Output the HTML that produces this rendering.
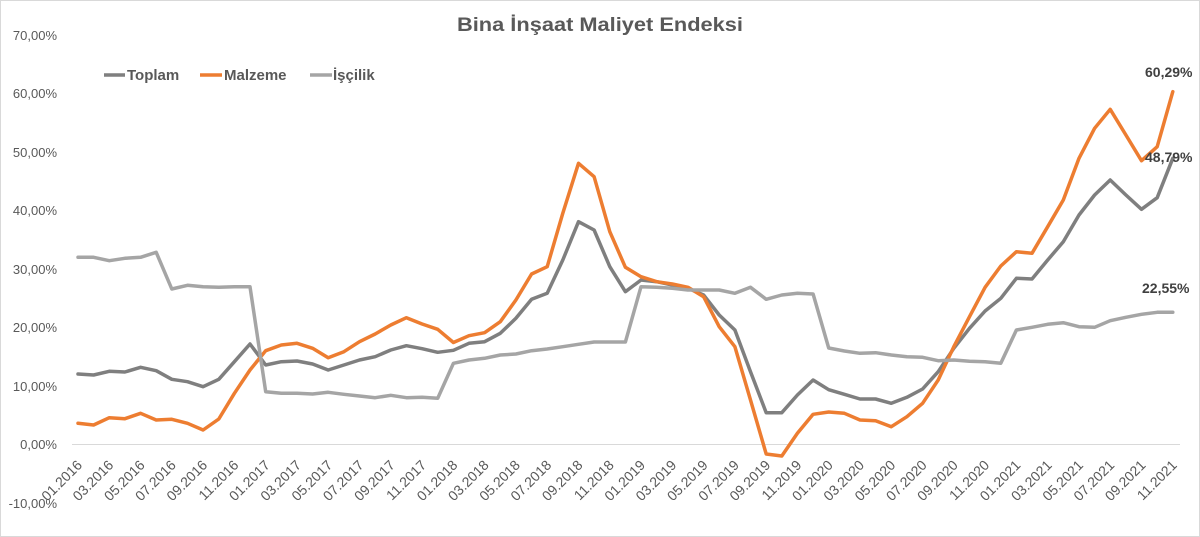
<!DOCTYPE html>
<html><head><meta charset="utf-8"><style>
html,body{margin:0;padding:0;background:#fff;}
svg{display:block;}
</style></head><body>
<svg width="1200" height="537" viewBox="0 0 1200 537" xmlns="http://www.w3.org/2000/svg" font-family="'Liberation Sans', sans-serif">
<rect x="0.5" y="0.5" width="1199" height="536" fill="#fff" stroke="#d9d9d9" stroke-width="1"/>
<text x="600" y="31" text-anchor="middle" font-size="19" font-weight="bold" fill="#595959" textLength="286" lengthAdjust="spacingAndGlyphs">Bina İnşaat Maliyet Endeksi</text>
<!-- legend -->
<g font-size="15" font-weight="bold" fill="#595959">
<line x1="104" y1="75" x2="125" y2="75" stroke="#7f7f7f" stroke-width="3.5"/>
<text x="127" y="80">Toplam</text>
<line x1="200" y1="75" x2="222" y2="75" stroke="#ed7d31" stroke-width="3.5"/>
<text x="224" y="80">Malzeme</text>
<line x1="310" y1="75" x2="332" y2="75" stroke="#a5a5a5" stroke-width="3.5"/>
<text x="333" y="80">İşçilik</text>
</g>
<!-- y axis labels -->
<g font-size="13" fill="#595959" text-anchor="end">
<text x="57" y="40">70,00%</text>
<text x="57" y="98">60,00%</text>
<text x="57" y="157">50,00%</text>
<text x="57" y="215">40,00%</text>
<text x="57" y="274">30,00%</text>
<text x="57" y="332">20,00%</text>
<text x="57" y="391">10,00%</text>
<text x="57" y="449">0,00%</text>
<text x="57" y="508">-10,00%</text>
</g>
<line x1="72" y1="444.5" x2="1180" y2="444.5" stroke="#d9d9d9" stroke-width="1"/>
<!-- series -->
<g fill="none" stroke-width="3.5" stroke-linejoin="round" stroke-linecap="round">
<polyline stroke="#7f7f7f" points="78.0,374 93.6,375 109.3,371.3 124.9,372 140.6,367.3 156.2,370.7 171.8,379.3 187.5,381.7 203.1,386.7 218.8,379.3 234.4,361.7 250.0,344 265.7,365 281.3,361.7 297.0,361 312.6,364 328.2,370 343.9,365 359.5,360 375.2,356.7 390.8,350 406.4,345.7 422.1,348.7 437.7,352.3 453.4,350.3 469.0,343.3 484.6,341.7 500.3,333.3 515.9,318.3 531.6,299.3 547.2,293.3 562.8,260 578.5,221.7 594.1,230 609.8,266.7 625.4,291.7 641.0,280 656.7,281.7 672.3,285 688.0,288.3 703.6,295 719.2,315 734.9,330 750.5,371.7 766.2,412.7 781.8,412.7 797.4,395 813.1,380 828.7,389.7 844.4,394.3 860.0,399 875.6,399 891.3,403.3 906.9,397.3 922.6,389 938.2,371.7 953.8,348.3 969.5,328.3 985.1,311 1000.8,298.3 1016.4,278.3 1032.0,279 1047.7,260 1063.3,241.7 1079.0,215 1094.6,195 1110.2,180 1125.9,195 1141.5,209.3 1157.2,197.7 1172.8,158.3"/>
<polyline stroke="#ed7d31" points="78.0,423.3 93.6,425 109.3,417.7 124.9,418.7 140.6,413.3 156.2,420 171.8,419.3 187.5,423.3 203.1,430 218.8,419 234.4,393.3 250.0,370 265.7,350.7 281.3,345 297.0,343.3 312.6,348.3 328.2,357.7 343.9,351.7 359.5,341.7 375.2,334 390.8,325 406.4,317.7 422.1,324 437.7,329.3 453.4,342.5 469.0,335.7 484.6,332.7 500.3,321.7 515.9,300 531.6,274 547.2,266.7 562.8,213.3 578.5,163.3 594.1,176.7 609.8,231.7 625.4,267.3 641.0,276.7 656.7,281.7 672.3,284 688.0,287.3 703.6,296.7 719.2,326.7 734.9,346.7 750.5,400 766.2,454 781.8,456 797.4,433.3 813.1,414.3 828.7,412 844.4,413.3 860.0,420 875.6,420.7 891.3,426.7 906.9,416.7 922.6,403.3 938.2,380 953.8,346.7 969.5,316.7 985.1,287.3 1000.8,266 1016.4,251.7 1032.0,253.3 1047.7,226.7 1063.3,200 1079.0,158.3 1094.6,128.3 1110.2,109.3 1125.9,135 1141.5,160.7 1157.2,146.7 1172.8,91.7"/>
<polyline stroke="#a5a5a5" points="78.0,257.3 93.6,257.3 109.3,260.7 124.9,258.3 140.6,257.3 156.2,252.3 171.8,289 187.5,285.3 203.1,286.7 218.8,287.3 234.4,286.7 250.0,286.7 265.7,391.7 281.3,393.3 297.0,393.3 312.6,394 328.2,392.3 343.9,394.3 359.5,396 375.2,397.7 390.8,395.3 406.4,397.7 422.1,397.3 437.7,398.3 453.4,363.3 469.0,360 484.6,358.3 500.3,355 515.9,354 531.6,350.7 547.2,349 562.8,346.7 578.5,344.3 594.1,342 609.8,342 625.4,342 641.0,286.7 656.7,287.3 672.3,288.3 688.0,290 703.6,290 719.2,290 734.9,293.3 750.5,287.3 766.2,299.3 781.8,295 797.4,293.3 813.1,294 828.7,348 844.4,351 860.0,353.3 875.6,352.7 891.3,355 906.9,356.7 922.6,357.3 938.2,360.7 953.8,360 969.5,361.3 985.1,361.7 1000.8,363.3 1016.4,330 1032.0,327.3 1047.7,324.3 1063.3,322.7 1079.0,326.7 1094.6,327.3 1110.2,320.7 1125.9,317.3 1141.5,314.3 1157.2,312.3 1172.8,312.3"/>
</g>
<!-- data labels -->
<g font-size="14" font-weight="bold" fill="#404040">
<text x="1145" y="77">60,29%</text>
<text x="1145" y="162">48,79%</text>
<text x="1142" y="293">22,55%</text>
</g>
<!-- x axis labels -->
<g font-size="14" fill="#595959" text-anchor="end">
<text transform="translate(83,466) rotate(-45)">01.2016</text>
<text transform="translate(114.3,466) rotate(-45)">03.2016</text>
<text transform="translate(145.6,466) rotate(-45)">05.2016</text>
<text transform="translate(176.8,466) rotate(-45)">07.2016</text>
<text transform="translate(208.1,466) rotate(-45)">09.2016</text>
<text transform="translate(239.4,466) rotate(-45)">11.2016</text>
<text transform="translate(270.7,466) rotate(-45)">01.2017</text>
<text transform="translate(302.0,466) rotate(-45)">03.2017</text>
<text transform="translate(333.2,466) rotate(-45)">05.2017</text>
<text transform="translate(364.5,466) rotate(-45)">07.2017</text>
<text transform="translate(395.8,466) rotate(-45)">09.2017</text>
<text transform="translate(427.1,466) rotate(-45)">11.2017</text>
<text transform="translate(458.4,466) rotate(-45)">01.2018</text>
<text transform="translate(489.6,466) rotate(-45)">03.2018</text>
<text transform="translate(520.9,466) rotate(-45)">05.2018</text>
<text transform="translate(552.2,466) rotate(-45)">07.2018</text>
<text transform="translate(583.5,466) rotate(-45)">09.2018</text>
<text transform="translate(614.8,466) rotate(-45)">11.2018</text>
<text transform="translate(646.0,466) rotate(-45)">01.2019</text>
<text transform="translate(677.3,466) rotate(-45)">03.2019</text>
<text transform="translate(708.6,466) rotate(-45)">05.2019</text>
<text transform="translate(739.9,466) rotate(-45)">07.2019</text>
<text transform="translate(771.2,466) rotate(-45)">09.2019</text>
<text transform="translate(802.4,466) rotate(-45)">11.2019</text>
<text transform="translate(833.7,466) rotate(-45)">01.2020</text>
<text transform="translate(865.0,466) rotate(-45)">03.2020</text>
<text transform="translate(896.3,466) rotate(-45)">05.2020</text>
<text transform="translate(927.6,466) rotate(-45)">07.2020</text>
<text transform="translate(958.8,466) rotate(-45)">09.2020</text>
<text transform="translate(990.1,466) rotate(-45)">11.2020</text>
<text transform="translate(1021.4,466) rotate(-45)">01.2021</text>
<text transform="translate(1052.7,466) rotate(-45)">03.2021</text>
<text transform="translate(1084.0,466) rotate(-45)">05.2021</text>
<text transform="translate(1115.2,466) rotate(-45)">07.2021</text>
<text transform="translate(1146.5,466) rotate(-45)">09.2021</text>
<text transform="translate(1177.8,466) rotate(-45)">11.2021</text>
</g>
</svg>
</body></html>
